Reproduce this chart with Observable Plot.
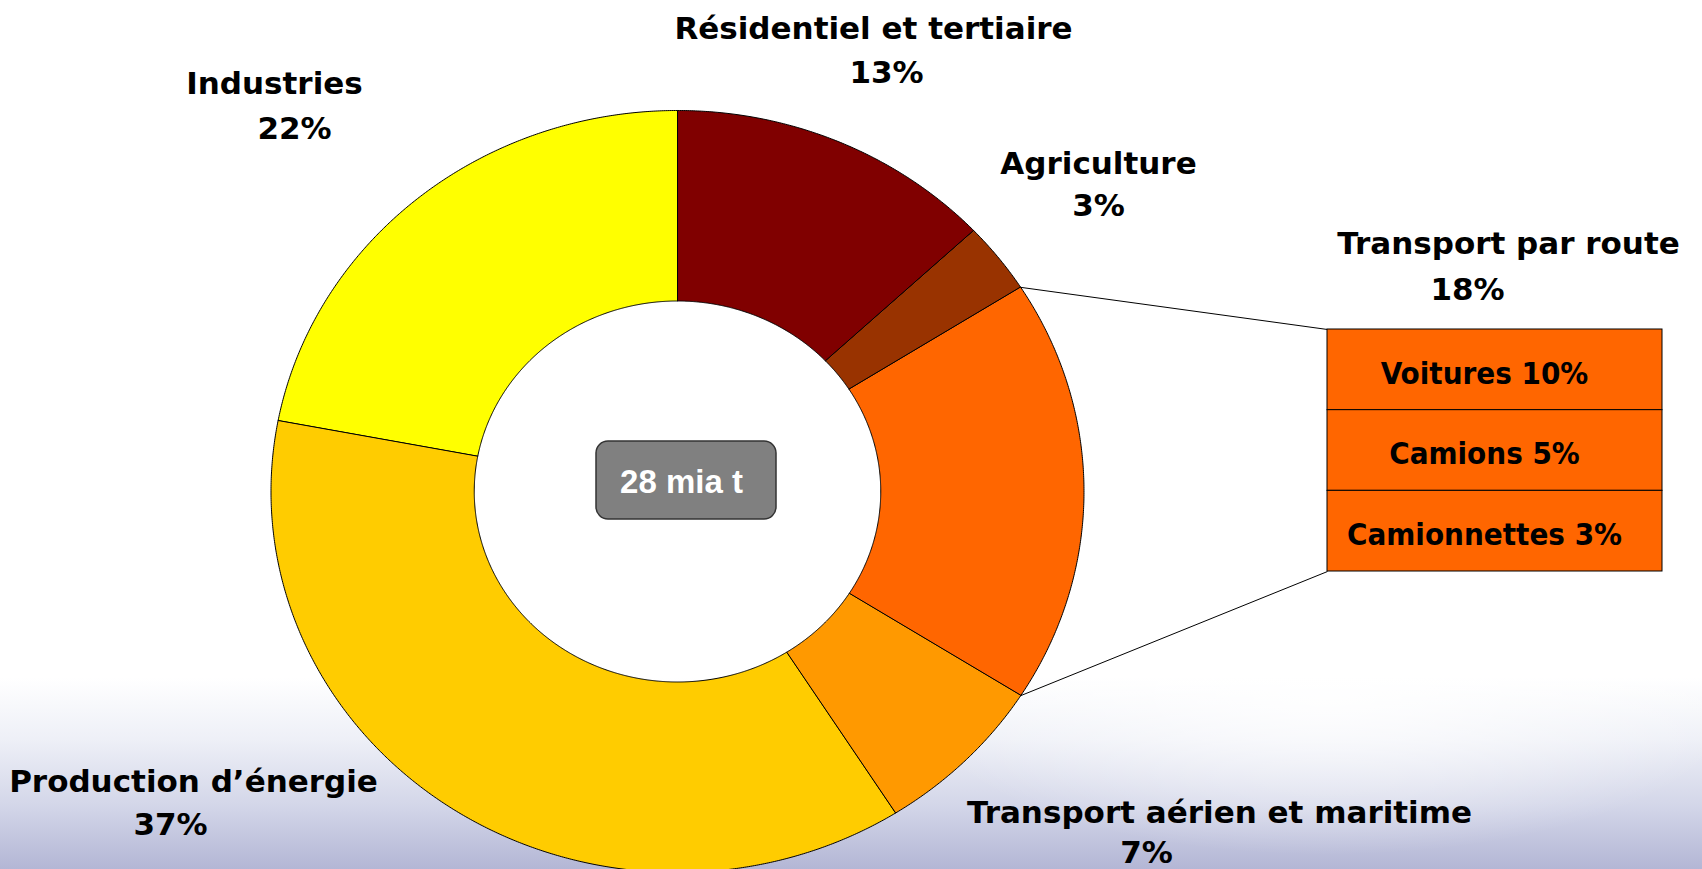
<!DOCTYPE html>
<html><head><meta charset="utf-8">
<script src="https://cdn.jsdelivr.net/npm/d3@7"></script>
<script src="https://cdn.jsdelivr.net/npm/@observablehq/plot@0.6"></script>
<style>
html,body{margin:0;padding:0;width:1702px;height:869px;overflow:hidden;}
body{background:
  radial-gradient(ellipse 420px 160px at 78% 80%, rgba(255,255,255,0.85), rgba(255,255,255,0) 100%),
  linear-gradient(to bottom, #ffffff 0%, #ffffff 78%, #eef0f7 85%, #d2d5e8 93%, #b3b6d5 100%);}
#chart svg{display:block;background:transparent;}
</style></head><body><div id="chart"></div>
<script>
// ---- data ----
const sectors = ["Résidentiel et tertiaire","Agriculture","Transport par route","Transport aérien et maritime","Production d’énergie","Industries"];
const shares = [13,3,18,7,37,22];
const sectorColors = ["#800000","#993300","#FF6600","#FF9900","#FFCC00","#FFFF00"];
const roadModes = ["Voitures","Camions","Camionnettes"];
const roadShares = [10,5,3];
const totalLabel = "28 mia t";
const expandedSector = "Transport par route";

// ---- layout (pixels) ----
const W = 1702, H = 869;
const donut = {cx: 677, cy: 491, rx: 406.5, ry: 381, inner: 0.5};
const namePos = [[873,38],[1098,173],[1508,253],[1219,822],[193,791],[274,93]];
const pctPos  = [[886,82],[1098,215],[1467,299],[1146,862],[170,834],[294,138]];
const box = {x1: 1327, x2: 1662, y1: 329, y2: 571, textX: 1484, textDy: 4};
const centerBox = {x1: 596, x2: 776, y1: 441, y2: 519, textX: 681, textY: 482};

// ---- geometry from data ----
const table = sectors.map((s,i)=>({name:s, share:shares[i], color:sectorColors[i]}));
const arcs = d3.pie().sort(null).value(d=>d.share)(table);
const pt = (t, k) => ({x: donut.cx + k*donut.rx*Math.sin(t), y: donut.cy - k*donut.ry*Math.cos(t)});
const ring = [];
arcs.forEach(a => {
  const n = Math.max(8, Math.ceil((a.endAngle - a.startAngle)/0.005));
  for (let k = 0; k <= n; k++) { const t = a.startAngle + (a.endAngle - a.startAngle)*k/n; ring.push({name:a.data.name, color:a.data.color, ...pt(t,1)}); }
  for (let k = n; k >= 0; k--) { const t = a.startAngle + (a.endAngle - a.startAngle)*k/n; ring.push({name:a.data.name, color:a.data.color, ...pt(t,donut.inner)}); }
});
const labels = [];
table.forEach((d,i)=>{
  labels.push({text:d.name, x:namePos[i][0], y:namePos[i][1]});
  labels.push({text:d.share+"%", x:pctPos[i][0], y:pctPos[i][1]});
});
const exp = arcs.find(a=>a.data.name===expandedSector);
const pA = pt(exp.startAngle,1), pB = pt(exp.endAngle,1);
const leaders = [{x1:pA.x,y1:pA.y,x2:box.x1,y2:box.y1},{x1:pB.x,y1:pB.y,x2:box.x1,y2:box.y2}];
const rowH = (box.y2-box.y1)/roadModes.length;
const rows = roadModes.map((m,i)=>({label:`${m} ${roadShares[i]}%`, y1:box.y1+i*rowH, y2:box.y1+(i+1)*rowH}));

const chart = Plot.plot({
  width: W, height: H, margin: 0,
  x: {domain:[0,W], range:[0,W], axis:null},
  y: {domain:[0,H], range:[0,H], axis:null},
  color: {type:"identity"},
  style: {background:"transparent", overflow:"visible"},
  marks: [
    Plot.line(ring, {x:"x", y:"y", z:"name", fill:"color", stroke:"#000", strokeWidth:1, curve:"linear-closed"}),
    Plot.link(leaders, {x1:"x1", y1:"y1", x2:"x2", y2:"y2", stroke:"#000", strokeWidth:1}),
    Plot.rect(rows, {x1:()=>box.x1, x2:()=>box.x2, y1:"y1", y2:"y2", fill:"#FF6600", stroke:"#000", strokeWidth:1}),
    Plot.text(rows, {x:()=>box.textX, y:d=>(d.y1+d.y2)/2 + box.textDy, text:"label", fontSize:31, fontWeight:"bold", fontFamily:"'DejaVu Sans Condensed', 'DejaVu Sans', sans-serif", fill:"#000"}),
    Plot.rect([totalLabel], {x1:()=>centerBox.x1, x2:()=>centerBox.x2, y1:()=>centerBox.y1, y2:()=>centerBox.y2, rx:12, fill:"#808080", stroke:"#333", strokeWidth:1.5}),
    Plot.text([totalLabel], {x:()=>centerBox.textX, y:()=>centerBox.textY, text:d=>d, fill:"#fff", fontSize:33, fontWeight:"bold", fontFamily:"'Liberation Sans', Arial, sans-serif"}),
    Plot.text(labels, {x:"x", y:"y", text:"text", lineAnchor:"bottom", fontSize:31, fontWeight:"bold", fontFamily:"'DejaVu Sans', Verdana, sans-serif", fill:"#000"})
  ]
});
document.getElementById("chart").append(chart);
</script></body></html>
